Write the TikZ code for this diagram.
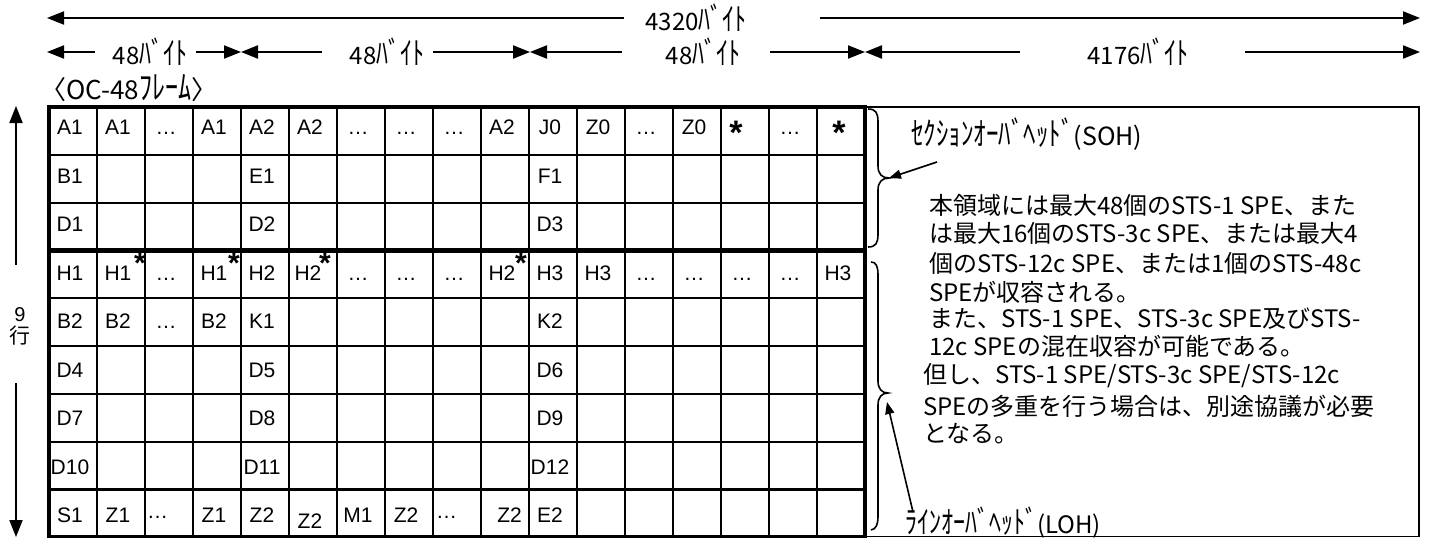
\documentclass[tikz,border=0pt]{standalone}
\usepackage{fontspec}
\usepackage{graphicx}
\setmainfont{Liberation Sans}
\newfontfamily\jp{Noto Sans CJK JP}
\newcommand{\hwk}[1]{\scalebox{1}[1.3]{#1}}
\usetikzlibrary{arrows.meta}
\begin{document}
\begin{tikzpicture}[x=1pt,y=-1pt,
  gridthin/.style={line width=2.2pt},
  gridthick/.style={line width=4.8pt},
  dimline/.style={line width=2pt},
  dimtip/.style={dimline,-{Triangle[length=17pt,width=13pt]}},
  celltxt/.style={font=\fontsize{21}{21}\selectfont,inner sep=0pt,anchor=base},
  astx/.style={font=\fontsize{30}{30}\selectfont\bfseries,inner sep=0pt,anchor=north},
  bigastx/.style={astx,font=\fontsize{34}{34}\selectfont\bfseries},
  jlbl/.style={font=\jp\fontsize{24}{24}\selectfont,inner sep=0pt},
  paraline/.style={font=\jp\fontsize{24}{24}\selectfont,inner sep=0pt,anchor=west},
  bracepath/.style={line width=1.6pt},
  ptr/.style={line width=1.6pt,-{Triangle[length=12pt,width=9pt]}}
]
\useasboundingbox (0,0) rectangle (1430,538);

% ---------- dimension arrows ----------
\coordinate (T0) at (47,18);  \coordinate (T1) at (624,18);
\coordinate (T2) at (820,18); \coordinate (T3) at (1420,18);
\node[jlbl] (t4320) at (696,18) {4320\hwk{ﾊﾞｲﾄ}};
\draw[dimtip] (T1) -- (T0);
\draw[dimtip] (T2) -- (T3);

\coordinate (S0) at (47,52);   \coordinate (S1) at (95,52);
\coordinate (S2) at (196,52);  \coordinate (S3) at (241,52);
\coordinate (S4) at (322,52);  \coordinate (S5) at (433,52);
\coordinate (S6) at (530,52);  \coordinate (S7) at (622,52);
\coordinate (S8) at (770,52);  \coordinate (S9) at (865,52);
\coordinate (S10) at (1020,52);\coordinate (S11) at (1245,52);
\coordinate (S12) at (1420,52);
\node[jlbl] (a48) at (150,52) {48\hwk{ﾊﾞｲﾄ}};
\node[jlbl] (b48) at (387,52) {48\hwk{ﾊﾞｲﾄ}};
\node[jlbl] (c48) at (703,52) {48\hwk{ﾊﾞｲﾄ}};
\node[jlbl] (d4176) at (1138,52) {4176\hwk{ﾊﾞｲﾄ}};
\draw[dimtip] (S1) -- (S0);  \draw[dimtip] (S2) -- (S3);
\draw[dimtip] (S4) -- (S3);  \draw[dimtip] (S5) -- (S6);
\draw[dimtip] (S7) -- (S6);  \draw[dimtip] (S8) -- (S9);
\draw[dimtip] (S10) -- (S9); \draw[dimtip] (S11) -- (S12);

\node[jlbl,font=\jp\fontsize{26}{26}\selectfont,anchor=west] (frame) at (40,88) {〈OC-48\hwk{ﾌﾚｰﾑ}〉};

% ---------- vertical 9 rows ----------
\coordinate (V0) at (16,265); \coordinate (V1) at (16,106);
\coordinate (V2) at (16,383); \coordinate (V3) at (16,537);
\draw[dimtip] (V0) -- (V1);
\draw[dimtip] (V2) -- (V3);
\node[font=\fontsize{20}{20}\selectfont,inner sep=0pt] (nine) at (20,315) {9};
\node[font=\jp\fontsize{21}{21}\selectfont,inner sep=0pt] (gyou) at (20,336) {行};

% ---------- right box ----------
\draw[line width=1.6pt] (865,107) rectangle (1419,536.5);

% ---------- grid ----------
\foreach \i in {1,...,16}
  \draw[gridthin] ({49+48*\i},107) -- ({49+48*\i},537.2);
\foreach \j in {1,2,4,5,6,7,8}
  \draw[gridthin] (49,{107+47.8*\j}) -- (865,{107+47.8*\j});
\draw[gridthick] (49,107) rectangle (865,537.2);
\draw[gridthick] (49,250.4) -- (865,250.4);

% ---------- cell labels ----------
\foreach \r/\c/\t in {
  0/0/A1,0/1/A1,0/2/…,0/3/A1,0/4/A2,0/5/A2,0/6/…,0/7/…,0/8/…,0/9/A2,
  0/10/J0,0/11/Z0,0/12/…,0/13/Z0,0/15/…,
  1/0/B1,1/4/E1,1/10/F1,
  2/0/D1,2/4/D2,2/10/D3,
  3/0/H1,3/1/H1,3/2/…,3/3/H1,3/4/H2,3/6/…,3/7/…,3/8/…,3/9/H2,
  3/10/H3,3/11/H3,3/12/…,3/13/…,3/14/…,3/15/…,3/16/H3,
  4/0/B2,4/1/B2,4/2/…,4/3/B2,4/4/K1,4/10/K2,
  5/0/D4,5/4/D5,5/10/D6,
  6/0/D7,6/4/D8,6/10/D9,
  7/0/D10,7/4/D11,7/10/D12,
  8/0/S1,8/1/Z1,8/3/Z1,8/4/Z2,8/6/M1,8/7/Z2,8/10/E2}
  \node[celltxt] (L\r-\c) at ({49+48*\c+21},{107+47.8*\r+27.5+0.7*\r}) {\t};
\node[celltxt] (L3-5) at ({49+48*5+19},{107+47.8*3+29.6}) {H2};
\node[celltxt] (L8-5) at ({49+48*5+21},{107+47.8*8+39}) {Z2};
\node[celltxt,anchor=base west] (L8-2) at ({49+48*2+2},{107+47.8*8+28.6}) {…};
\node[celltxt,anchor=base west] (L8-8) at ({49+48*8+3},{107+47.8*8+28.6}) {…};
\node[celltxt,anchor=base east] (L8-9) at ({49+48*9+41},{107+47.8*8+33}) {Z2};

% asterisks
\node[bigastx] (L0-14) at (736,121) {*};
\node[bigastx] (L0-16) at (839,121) {*};
\node[astx] (s31) at (140,253) {*};
\node[astx] (s33) at (234,253) {*};
\node[astx] (s35) at (325,253) {*};
\node[astx] (s39) at (521,253) {*};

% ---------- braces ----------
\coordinate (sohtip) at (889,178);
\coordinate (lohtip) at (888,393);
\coordinate (lohpt) at (887,402);
\draw[bracepath] (868,109) .. controls (876,109) and (878,113) .. (878,122)
  -- (878,166) .. controls (878,174) and (882,178) .. (sohtip)
  .. controls (882,178) and (878,182) .. (878,190)
  -- (878,234) .. controls (878,243) and (876,247) .. (868,247);
\draw[bracepath] (871,262) .. controls (876,262) and (878,266) .. (878,275)
  -- (878,381) .. controls (878,389) and (882,393) .. (lohtip)
  .. controls (882,393) and (878,397) .. (878,405)
  -- (878,516) .. controls (878,525) and (876,529) .. (871,530);

% ---------- labels in box ----------
\node[jlbl,font=\jp\fontsize{25}{25}\selectfont,anchor=west] (soh) at (911,134) {\hwk{ｾｸｼｮﾝｵｰﾊﾞﾍｯﾄﾞ}(SOH)};
\node[jlbl,anchor=west] (loh) at (905,523) {\hwk{ﾗｲﾝｵｰﾊﾞﾍｯﾄﾞ}(LOH)};
\coordinate (sohA) at (937,162);
\coordinate (lohA) at (913,512);
\draw[ptr] (sohA) -- (sohtip);
\draw[ptr] (lohA) -- (lohpt);

\node[paraline] (p1) at (929,205) {本領域には最大48個のSTS-1 SPE、また};
\node[paraline] (p2) at (929,233) {は最大16個のSTS-3c SPE、または最大4};
\node[paraline] (p3) at (929,263) {個のSTS-12c SPE、または1個のSTS-48c};
\node[paraline] (p4) at (929,292) {SPEが収容される。};
\node[paraline] (p5) at (929,319) {また、STS-1 SPE、STS-3c SPE及びSTS-};
\node[paraline] (p6) at (929,346) {12c SPEの混在収容が可能である。};
\node[paraline] (p7) at (923,376) {但し、STS-1 SPE/STS-3c SPE/STS-12c};
\node[paraline] (p8) at (923,406) {SPEの多重を行う場合は、別途協議が必要};
\node[paraline] (p9) at (923,434) {となる。};
\end{tikzpicture}
\end{document}
